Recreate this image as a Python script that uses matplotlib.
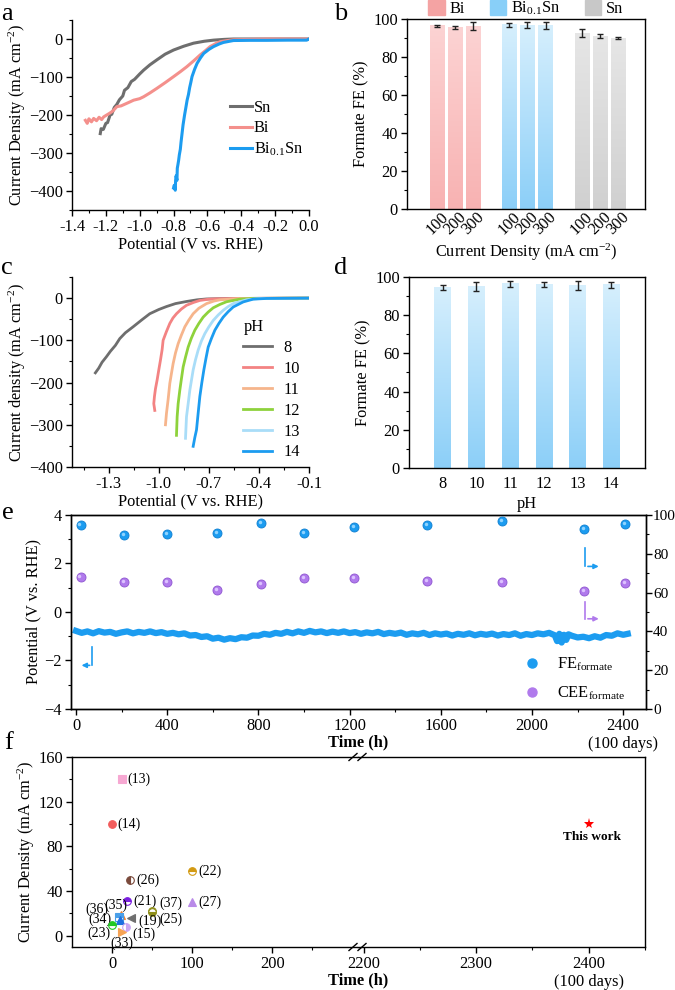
import numpy as np
import matplotlib
matplotlib.use("Agg")
import matplotlib.pyplot as plt
from matplotlib.colors import LinearSegmentedColormap
from matplotlib.patches import Patch
from matplotlib.lines import Line2D
from matplotlib.ticker import MultipleLocator, FixedLocator
import matplotlib.transforms as mtransforms

plt.rcParams.update({
    "font.family": ["Liberation Serif", "DejaVu Serif"],
    "font.size": 11.8,
    "mathtext.fontset": "custom",
    "mathtext.rm": "Liberation Serif",
    "mathtext.it": "Liberation Serif:italic",
    "mathtext.bf": "Liberation Serif:bold",
    "axes.linewidth": 1.0,
    "xtick.direction": "out", "ytick.direction": "out",
    "xtick.major.size": 4, "ytick.major.size": 4,
    "xtick.minor.size": 2.3, "ytick.minor.size": 2.3,
    "xtick.major.width": 1.0, "ytick.major.width": 1.0,
    "xtick.minor.width": 0.8, "ytick.minor.width": 0.8,
    "xtick.major.pad": 2.5, "ytick.major.pad": 2.5,
    "legend.fontsize": 11.8,
})

# ---------------- data ----------------
# panel a : LSV curves
a_sn_v = [-1.233, -1.228, -1.215, -1.200, -1.190, -1.175, -1.165, -1.150, -1.135, -1.120, -1.100,
          -1.090, -1.070, -1.050, -1.030, -1.000, -0.977, -0.940, -0.899, -0.850, -0.800, -0.740,
          -0.682, -0.620, -0.564, -0.500, -0.446, -0.300, 0.0]
a_sn_j = [-249, -236, -238, -222, -220, -200, -198, -180, -172, -160, -150,
          -135, -128, -112, -106, -92, -82, -68, -55, -40, -29, -19,
          -11, -6, -3, -1, 0, 0, 0]
a_bi_v = [-1.321, -1.310, -1.300, -1.285, -1.272, -1.255, -1.240, -1.225, -1.213, -1.195, -1.180,
          -1.160, -1.135, -1.110, -1.090, -1.060, -1.036, -1.000, -0.977, -0.940, -0.899, -0.850,
          -0.800, -0.760, -0.722, -0.680, -0.643, -0.610, -0.584, -0.550, -0.524, -0.480, -0.446,
          -0.350, -0.250, 0.0]
a_bi_j = [-214, -222, -210, -218, -209, -215, -206, -212, -205, -200, -196,
          -190, -178, -176, -172, -166, -161, -157, -152, -142, -130, -115,
          -99, -86, -73, -57, -42, -30, -20, -12, -7, -4, -2,
          -1, 0, 0]
a_bisn_v = [-0.800, -0.796, -0.790, -0.788, -0.785, -0.780, -0.778, -0.774, -0.770, -0.766, -0.760,
            -0.756, -0.750, -0.744, -0.735, -0.728, -0.720, -0.712, -0.705, -0.698, -0.691, -0.676,
            -0.661, -0.640, -0.622, -0.590, -0.564, -0.530, -0.505, -0.470, -0.446, -0.350, -0.250,
            -0.120, -0.014, 0.0]
a_bisn_j = [-392, -385, -398, -372, -360, -372, -340, -330, -319, -305, -290,
            -272, -249, -226, -200, -182, -161, -146, -128, -114, -99, -80,
            -64, -49, -38, -27, -20, -13, -9, -6, -4, -3.5, -3.5,
            -3, -3, 0]

# panel b : formate FE vs current density
b_currents = ["100", "200", "300"]
b_catalysts = ["Bi", "Bi$_{0.1}$Sn", "Sn"]
b_fe_bi = [96.5, 95.5, 96.2]
b_err_bi = [0.5, 1.0, 2.0]
b_fe_bisn = [97.0, 96.8, 96.5]
b_err_bisn = [1.0, 1.5, 2.0]
b_fe_sn = [92.5, 91.0, 90.0]
b_err_sn = [2.0, 1.0, 0.7]

# panel c : LSV at different pH
c_ph_labels = ["8", "10", "11", "12", "13", "14"]
c_v_ph8 = [-1.380, -1.360, -1.340, -1.314, -1.290, -1.260, -1.234, -1.200, -1.154, -1.100, -1.054,
           -1.000, -0.954, -0.900, -0.834, -0.770, -0.714, -0.630, -0.554, -0.400, -0.100]
c_j_ph8 = [-177, -166, -152, -139, -126, -112, -96, -82, -68, -51, -37,
           -27, -20, -13, -8, -4, -2, -1.2, -1, -0.5, 0]
c_v_ph10 = [-1.024, -1.030, -1.026, -1.020, -1.010, -1.000, -0.990, -0.980, -0.974, -0.955, -0.934,
            -0.915, -0.894, -0.865, -0.834, -0.790, -0.754, -0.700, -0.654, -0.514, -0.100]
c_j_ph10 = [-266, -250, -233, -215, -194, -170, -147, -122, -100, -80, -60,
            -47, -37, -26, -17, -10, -5.5, -2.5, -1.6, -0.8, 0]
c_v_ph11 = [-0.960, -0.954, -0.944, -0.934, -0.924, -0.914, -0.900, -0.884, -0.865, -0.844, -0.820,
            -0.794, -0.760, -0.714, -0.670, -0.634, -0.514, -0.100]
c_j_ph11 = [-300, -273, -240, -202, -178, -155, -130, -108, -88, -68, -52,
            -37, -24, -13, -7, -4, -0.8, 0]
c_v_ph12 = [-0.894, -0.890, -0.884, -0.874, -0.864, -0.854, -0.840, -0.824, -0.805, -0.784, -0.760,
            -0.734, -0.704, -0.674, -0.634, -0.594, -0.514, -0.434, -0.100]
c_j_ph12 = [-325, -281, -250, -218, -190, -163, -140, -116, -95, -76, -60,
            -45, -33, -23, -15, -8.6, -2.4, -0.8, 0]
c_v_ph13 = [-0.840, -0.834, -0.824, -0.814, -0.804, -0.794, -0.780, -0.764, -0.745, -0.724, -0.700,
            -0.674, -0.644, -0.614, -0.584, -0.554, -0.474, -0.394, -0.100]
c_j_ph13 = [-332, -281, -250, -218, -194, -170, -146, -123, -102, -84, -68,
            -53, -40, -29, -20, -13, -4, -0.8, 0]
c_v_ph14 = [-0.794, -0.784, -0.774, -0.764, -0.754, -0.742, -0.730, -0.717, -0.704, -0.684, -0.664,
            -0.640, -0.614, -0.584, -0.554, -0.494, -0.434, -0.354, -0.100]
c_j_ph14 = [-351, -330, -312, -272, -233, -200, -170, -142, -116, -95, -76,
            -60, -45, -32, -21, -9, -2.4, -0.8, 0]

# panel d : formate FE vs pH
d_ph = ["8", "10", "11", "12", "13", "14"]
d_fe = [94.5, 95.0, 96.5, 96.0, 95.5, 96.0]
d_err = [1.5, 2.5, 1.5, 1.2, 2.3, 1.5]

# panel e : stability
e_time = [0, 25, 50, 75, 100, 125, 150, 175, 200, 225,
          250, 275, 300, 325, 350, 375, 400, 425, 450, 475,
          500, 525, 550, 575, 600, 625, 650, 675, 700, 725,
          750, 775, 800, 825, 850, 875, 900, 925, 950, 975,
          1000, 1025, 1050, 1075, 1100, 1125, 1150, 1175, 1200, 1225,
          1250, 1275, 1300, 1325, 1350, 1375, 1400, 1425, 1450, 1475,
          1500, 1525, 1550, 1575, 1600, 1625, 1650, 1675, 1700, 1725,
          1750, 1775, 1800, 1825, 1850, 1875, 1900, 1925, 1950, 1975,
          2000, 2025, 2050, 2075, 2100,
          2110, 2120, 2130, 2140, 2150, 2160, 2175, 2200, 2225, 2250,
          2275, 2300, 2325, 2350, 2375, 2400, 2420]
e_potential = [-0.78, -0.86, -0.80, -0.88, -0.79, -0.85, -0.82, -0.90, -0.84, -0.80,
               -0.88, -0.82, -0.86, -0.80, -0.87, -0.83, -0.90, -0.86, -0.92, -0.88,
               -0.97, -0.95, -1.03, -1.00, -1.10, -1.06, -1.14, -1.08, -1.12, -1.04,
               -1.06, -0.97, -0.98, -0.90, -0.94, -0.86, -0.90, -0.82, -0.88, -0.80,
               -0.86, -0.78, -0.84, -0.80, -0.87, -0.81, -0.86, -0.80, -0.87, -0.83,
               -0.90, -0.84, -0.88, -0.82, -0.91, -0.86, -0.90, -0.85, -0.94, -0.88,
               -0.92, -0.86, -0.95, -0.88, -0.93, -0.89, -0.97, -0.90, -0.94, -0.88,
               -0.96, -0.90, -0.94, -0.89, -0.97, -0.91, -0.95, -0.88, -0.98, -0.91,
               -0.95, -0.88, -0.92, -0.86, -0.96,
               -1.20, -0.90, -1.26, -0.94, -1.15, -0.92, -0.98, -1.05, -1.02, -1.08,
               -1.00, -1.06, -0.95, -0.98, -0.88, -0.94, -0.90]
e_sample_time = [20, 210, 400, 620, 810, 1000, 1220, 1540, 1870, 2230, 2410]
e_fe = [94.8, 89.7, 90.1, 90.6, 95.8, 90.6, 93.7, 94.7, 97.1, 92.8, 95.2]
e_cee = [68.2, 65.6, 65.6, 61.3, 64.4, 67.4, 67.4, 66.1, 65.3, 60.8, 64.8]

# panel f : comparison with literature
f_refs = ["(13)", "(14)", "(26)", "(22)", "(21)", "(27)", "(37)", "(25)", "(19)",
          "(35)", "(36)", "(34)", "(23)", "(15)", "(33)"]
f_time = [12, 0, 23, 100, 19, 100, 50, 50, 24, 11, 9, 10, 0, 17, 12]
f_current = [140, 100, 50, 58, 31, 30, 22, 21, 16, 19, 17, 14, 10, 8, 3]
f_this_time = 2400
f_this_current = 100

# ---------------- styles ----------------
W, H = 675, 990
fig = plt.figure(figsize=(W / 100, H / 100), dpi=100)


def rect(x0, y0, x1, y1):
    return [x0 / W, 1 - y1 / H, (x1 - x0) / W, (y1 - y0) / H]


def panel_letter(x, y, s):
    fig.text(x / W, 1 - y / H, s, fontsize=19, ha="left", va="center")


def gradient_bars(ax, bars, c_top, c_bot):
    cmap = LinearSegmentedColormap.from_list("g", [c_bot, c_top])
    grad = np.linspace(0, 1, 256).reshape(-1, 1)
    for b in bars:
        x0, w, h = b.get_x(), b.get_width(), b.get_height()
        ax.imshow(grad, extent=[x0, x0 + w, 0, h], origin="lower", cmap=cmap,
                  aspect="auto", zorder=1, interpolation="bilinear")
        b.set_visible(False)


# ---------------- panel a ----------------
ax = fig.add_axes(rect(72, 20, 309, 210))
ax.plot(a_sn_v, a_sn_j, color="#6E6E6E", lw=2.2, label="Sn")
ax.plot(a_bi_v, a_bi_j, color="#F4908C", lw=2.2, label="Bi")
ax.plot(a_bisn_v, a_bisn_j, color="#1C9CF0", lw=2.2, label="Bi$_{0.1}$Sn")
ax.set_xlim(-1.4, 0.0)
ax.set_ylim(-450, 50)
ax.xaxis.set_major_locator(MultipleLocator(0.2))
ax.xaxis.set_minor_locator(MultipleLocator(0.1))
ax.yaxis.set_major_locator(FixedLocator([-400, -300, -200, -100, 0]))
ax.yaxis.set_minor_locator(MultipleLocator(50))
ax.xaxis.set_major_formatter(matplotlib.ticker.FuncFormatter(lambda v, p: f"{v:.1f}".replace("-0.0", "0.0")))
for s in ("top", "right"):
    ax.spines[s].set_visible(False)
ax.set_xlabel("Potential (V vs. RHE)", labelpad=1)
ax.set_ylabel("Current Density (mA cm$^{-2}$)", labelpad=1)
ax.legend(loc="upper left", bbox_to_anchor=(0.64, 0.615), frameon=False, handlelength=1.3,
          handletextpad=0.15, labelspacing=0.28, borderaxespad=0)
panel_letter(1, 14, "a")

# ---------------- panel b ----------------
ax = fig.add_axes(rect(407, 19, 645, 209))
pos_groups = [[0, 1, 2], [4, 5, 6], [8, 9, 10]]
vals = [b_fe_bi, b_fe_bisn, b_fe_sn]
errs = [b_err_bi, b_err_bisn, b_err_sn]
tops = ["#FCD3D3", "#D6EFFD", "#E6E6E6"]
bots = ["#F8B2B2", "#8CCFF8", "#D0D0D0"]
for pg, v, e, ct, cb in zip(pos_groups, vals, errs, tops, bots):
    bars = ax.bar(pg, v, width=0.78, color=cb)
    gradient_bars(ax, bars, ct, cb)
    ax.errorbar(pg, v, yerr=e, fmt="none", ecolor="#222222", elinewidth=1.0,
                capsize=2.3, capthick=1.0, zorder=3)
ax.set_xlim(-1.66, 11.5)
ax.set_ylim(0, 100)
ax.set_xticks(sum(pos_groups, []))
ax.set_xticklabels(b_currents * 3, rotation=45, ha="center", va="top")
ax.tick_params(axis="x", length=0, pad=0)
ax.yaxis.set_major_locator(MultipleLocator(20))
ax.yaxis.set_minor_locator(MultipleLocator(10))
ax.set_ylabel("Formate FE (%)", labelpad=3)
ax.set_xlabel("Current Density (mA cm$^{-2}$)", labelpad=3)
handles = [Patch(color=c) for c in ["#F4A3A3", "#88CFF8", "#C8C8C8"]]
ax.legend(handles, b_catalysts, ncol=3, loc="lower center", bbox_to_anchor=(0.5, 0.975),
          frameon=False, handlelength=1.0, handleheight=1.0, handletextpad=0.3,
          columnspacing=1.5, borderaxespad=0)
panel_letter(334, 14, "b")

# ---------------- panel c ----------------
ax = fig.add_axes(rect(72, 277, 309, 467))
c_colors = ["#6E6E6E", "#F38383", "#F6B58C", "#8ED23C", "#A9DDF8", "#1C9CF0"]
c_curves = [(c_v_ph8, c_j_ph8), (c_v_ph10, c_j_ph10), (c_v_ph11, c_j_ph11),
            (c_v_ph12, c_j_ph12), (c_v_ph13, c_j_ph13), (c_v_ph14, c_j_ph14)]
for (v, j), col, lab in zip(c_curves, c_colors, c_ph_labels):
    ax.plot(v, j, color=col, lw=2.0, label=lab)
ax.set_xlim(-1.52, -0.1)
ax.set_ylim(-400, 50)
ax.xaxis.set_major_locator(FixedLocator([-1.3, -1.0, -0.7, -0.4, -0.1]))
ax.xaxis.set_minor_locator(FixedLocator([-1.45, -1.15, -0.85, -0.55, -0.25]))
ax.xaxis.set_major_formatter(matplotlib.ticker.FuncFormatter(lambda v, p: f"{v:.1f}"))
ax.yaxis.set_major_locator(MultipleLocator(100))
ax.yaxis.set_minor_locator(MultipleLocator(50))
for s in ("top", "right"):
    ax.spines[s].set_visible(False)
ax.set_xlabel("Potential (V vs. RHE)", labelpad=1)
ax.set_ylabel("Current density (mA cm$^{-2}$)", labelpad=1)
leg = ax.legend(title="pH", loc="lower right", bbox_to_anchor=(0.99, 0.0), frameon=False,
                handlelength=1.75, handletextpad=0.7, labelspacing=0.3, borderaxespad=0,
                alignment="left", title_fontsize=11.8)
panel_letter(1, 268, "c")

# ---------------- panel d ----------------
ax = fig.add_axes(rect(409, 277, 645, 468))
xpos = np.arange(len(d_ph))
bars = ax.bar(xpos, d_fe, width=0.49, color="#8DCFF8")
gradient_bars(ax, bars, "#D6EFFD", "#8CCFF8")
ax.errorbar(xpos, d_fe, yerr=d_err, fmt="none", ecolor="#222222", elinewidth=1.0,
            capsize=2.3, capthick=1.0, zorder=3)
ax.set_xlim(-1, len(d_ph))
ax.set_ylim(0, 100)
ax.set_xticks(xpos)
ax.set_xticklabels(d_ph)
ax.tick_params(axis="x", length=0, pad=6)
ax.yaxis.set_major_locator(MultipleLocator(20))
ax.yaxis.set_minor_locator(MultipleLocator(10))
ax.set_ylabel("Formate FE (%)", labelpad=3)
ax.set_xlabel("pH", labelpad=3)
panel_letter(334, 268, "d")

# ---------------- panel e ----------------
ax = fig.add_axes(rect(71, 515, 646, 709))
ax2 = ax.twinx()
ax.plot(e_time, e_potential, color="#1C9CF0", lw=4.5, solid_joinstyle="round", zorder=2)
ax.set_xlim(-22, 2500)
ax.set_ylim(-4, 4)
ax.xaxis.set_major_locator(FixedLocator([0, 400, 800, 1200, 1600, 2000, 2400]))
ax.xaxis.set_minor_locator(MultipleLocator(200))
ax.set_xticklabels(["0", "400", "800", "1200", "1600", "2000", "2400\n(100 days)"])
ax.yaxis.set_major_locator(MultipleLocator(2))
ax.yaxis.set_minor_locator(MultipleLocator(1))
ax.set_ylabel("Potential (V vs. RHE)", labelpad=2)
ax.set_xlabel("Time (h)", fontweight="bold", labelpad=-13)

sphere_fe = "#1C9CF0"
sphere_cee = "#B07AEC"
ax2.plot(e_sample_time, e_fe, "o", color=sphere_fe, ms=6.5, mec="#0F7FD0", mew=0.6, zorder=3)
ax2.plot(e_sample_time, e_cee, "o", color=sphere_cee, ms=6.5, mec="#8E55D0", mew=0.6, zorder=3)
hl = mtransforms.offset_copy(ax2.transData, fig=fig, x=-0.8, y=0.8, units="points")
ax2.plot(e_sample_time, e_fe, "o", color="#8FD3FF", ms=2.5, mew=0, transform=hl, zorder=4)
ax2.plot(e_sample_time, e_cee, "o", color="#DCC2FF", ms=2.5, mew=0, transform=hl, zorder=4)
ax2.set_ylim(0, 100)
ax2.yaxis.set_major_locator(MultipleLocator(20))
ax2.yaxis.set_minor_locator(MultipleLocator(10))
ax2.tick_params(axis="y", pad=1, labelsize=11)

# axis indicator arrows
ax.annotate("", xy=(12, -2.2), xytext=(72, -2.2),
            arrowprops=dict(arrowstyle="-|>", color="#1C9CF0", lw=1.2, mutation_scale=7))
ax.plot([72, 72], [-1.45, -2.2], color="#1C9CF0", lw=1.2)
ax2.annotate("", xy=(2305, 73.5), xytext=(2233, 73.5),
             arrowprops=dict(arrowstyle="-|>", color="#1C9CF0", lw=1.2, mutation_scale=7))
ax2.plot([2233, 2233], [83, 73.5], color="#1C9CF0", lw=1.2)
ax2.annotate("", xy=(2305, 46.5), xytext=(2233, 46.5),
             arrowprops=dict(arrowstyle="-|>", color="#B07AEC", lw=1.2, mutation_scale=7))
ax2.plot([2233, 2233], [55, 46.5], color="#B07AEC", lw=1.2)

leg_handles = [Line2D([], [], marker="o", ls="", color=sphere_fe, ms=6.5),
               Line2D([], [], marker="o", ls="", color=sphere_cee, ms=6.5)]
ax2.legend(leg_handles, ["FE$_{\\mathregular{formate}}$", "CEE$_{\\mathregular{formate}}$"],
           loc="lower right", bbox_to_anchor=(0.975, 0.0), frameon=False,
           handletextpad=0.5, labelspacing=0.75, borderaxespad=0)
panel_letter(2, 513, "e")

# ---------------- panel f ----------------
axL = fig.add_axes(rect(72, 757, 358, 947))
axR = fig.add_axes(rect(358, 757, 645, 947), sharey=axL)
f_style = {
    "(13)": dict(marker="s", color="#F6A8D2", fs="full"),
    "(14)": dict(marker="o", color="#F25C5C", fs="full"),
    "(26)": dict(marker="o", color="#7A4A3C", fs="left"),
    "(22)": dict(marker="o", color="#D39A12", fs="top"),
    "(21)": dict(marker="o", color="#7A1FE0", fs="top"),
    "(27)": dict(marker="^", color="#B98AE8", fs="full"),
    "(37)": dict(marker="o", color="#8F8F1A", fs="top"),
    "(25)": dict(marker="o", color="#8F8F1A", fs="bottom"),
    "(19)": dict(marker="<", color="#6E6E6E", fs="full"),
    "(35)": dict(marker="^", color="#F08232", fs="full"),
    "(36)": dict(marker="s", color="#4A9FE8", fs="top"),
    "(34)": dict(marker="^", color="#1E70E0", fs="full"),
    "(23)": dict(marker="o", color="#22C822", fs="top"),
    "(15)": dict(marker="o", color="#C9A6F2", fs="right"),
    "(33)": dict(marker=">", color="#F6A354", fs="full"),
}
f_label_offset = {
    "(13)": (4, 0, "left"), "(14)": (4, 0, "left"), "(26)": (4, 0, "left"),
    "(22)": (4.5, 0, "left"), "(21)": (4.5, 0, "left"), "(27)": (4.5, 0, "left"),
    "(37)": (5, 6, "left"), "(25)": (5, -5, "left"), "(19)": (5, -2.5, "left"),
    "(35)": (-3.5, 6.5, "center"), "(36)": (-16, 5.5, "center"), "(34)": (-6, 1, "right"),
    "(23)": (-1, -6, "right"), "(15)": (5, -5, "left"), "(33)": (0, -8, "center"),
}
for ref, t, c in zip(f_refs, f_time, f_current):
    st = f_style[ref]
    axL.plot(t, c, ls="", marker=st["marker"], color=st["color"], ms=5.5,
             fillstyle=st["fs"], markerfacecoloralt="white", mec=st["color"], mew=0.8,
             clip_on=False, zorder=3)
    dx, dy, ha = f_label_offset[ref]
    axL.annotate(ref, (t, c), xytext=(dx, dy), textcoords="offset points",
                 ha=ha, va="center", fontsize=10)
axR.plot(f_this_time, f_this_current, "*", color="red", ms=8, mew=0)
axR.annotate("This work", (f_this_time, f_this_current), xytext=(2, -5),
             textcoords="offset points", ha="center", va="top", fontsize=9.5, fontweight="bold")

axL.set_xlim(-50, 307)
axR.set_xlim(2195, 2450)
axL.set_ylim(-10, 160)
axL.xaxis.set_major_locator(FixedLocator([0, 100, 200]))
axL.xaxis.set_minor_locator(FixedLocator([50, 150, 250]))
axR.xaxis.set_major_locator(FixedLocator([2200, 2300, 2400]))
axR.xaxis.set_minor_locator(FixedLocator([2250, 2350, 2450]))
axR.set_xticklabels(["2200", "2300", "2400\n(100 days)"])
axL.yaxis.set_major_locator(MultipleLocator(40))
axL.yaxis.set_minor_locator(MultipleLocator(20))
axL.spines["right"].set_visible(False)
axR.spines["left"].set_visible(False)
axR.tick_params(axis="y", which="both", left=False, labelleft=False)
axL.set_ylabel("Current Density (mA cm$^{-2}$)", labelpad=1)

# axis break marks
xb = axL.get_position().x1
for yb in (axL.get_position().y0, axL.get_position().y1):
    for dxp in (-5, 4):
        fig.add_artist(Line2D([xb + (dxp - 4) / W, xb + (dxp + 4) / W],
                              [yb - 3.5 / H, yb + 3.5 / H], color="black", lw=1.0))
fig.text((72 + 645) / 2 / W, 1 - 980 / H, "Time (h)", ha="center", va="center",
         fontweight="bold", fontsize=11.8)
panel_letter(4, 743, "f")

fig.savefig("out.png", dpi=100)
